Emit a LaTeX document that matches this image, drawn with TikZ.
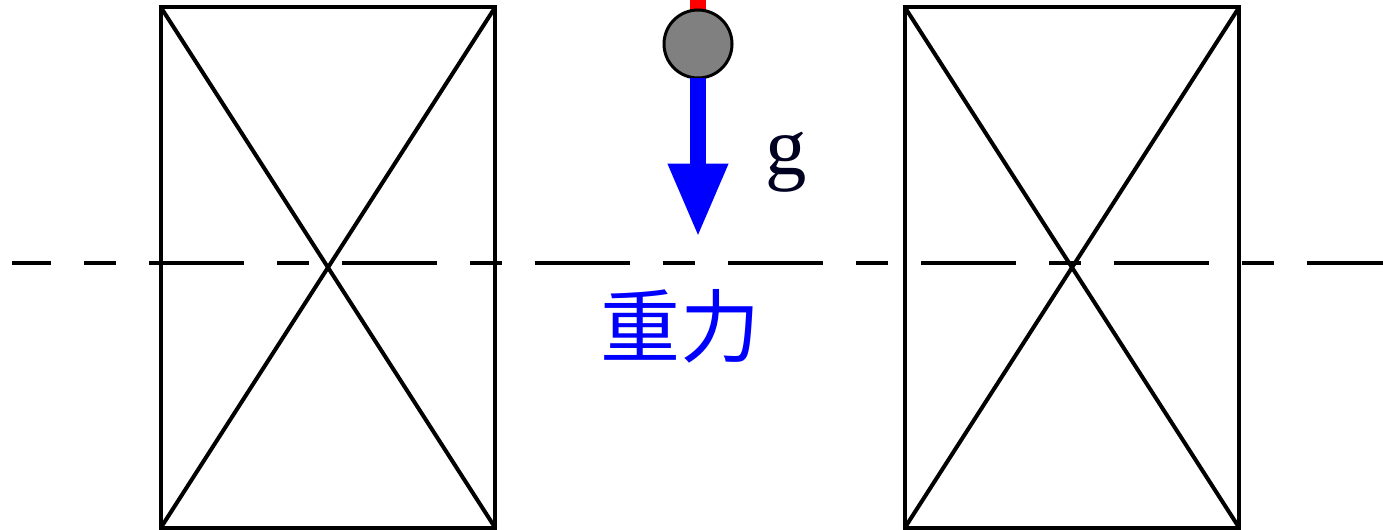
\documentclass[tikz,border=0pt]{standalone}
\usepackage{fontspec}
\setmainfont{Liberation Serif}
\newfontfamily\cjk{Noto Sans CJK SC}
\usetikzlibrary{arrows.meta}
\definecolor{gdark}{RGB}{0,0,32}
\begin{document}
\begin{tikzpicture}[x=0.75pt,y=-0.75pt,
  coil/.style={draw,line width=3pt,minimum width=251pt,minimum height=390.75pt,outer sep=0pt,inner sep=0pt},
  ball/.style={circle,draw,fill=gray,line width=2.25pt,minimum size=51pt,inner sep=0pt,outer sep=0pt}]
  \useasboundingbox (0,0) rectangle (1383,530);
  \node[coil] (c1) at (328,267.5) {};
  \node[coil] (c2) at (1072,267.5) {};
  \draw[line width=3pt] (c1.north west) -- (c1.south east);
  \draw[line width=3pt] (c1.north east) -- (c1.south west);
  \draw[line width=3pt] (c2.north west) -- (c2.south east);
  \draw[line width=3pt] (c2.north east) -- (c2.south west);
  \coordinate (l0) at (12,263);
  \coordinate (l1) at (1383,263);
  \draw[line width=3pt,dash pattern=on 71.25pt off 24.75pt on 24pt off 24.75pt,dash phase=42pt] (l0) -- (l1);
  \coordinate (top) at (698,0);
  \coordinate (mc) at (698,44);
  \draw[red,line width=12pt] (mc) -- (top);
  \node[ball] (m) at (mc) {};
  \coordinate (tip) at (698,237);
  \draw[blue,line width=12pt,-{Triangle[length=55pt,width=42pt]}] (m.south) -- (tip);
  \node[text=gdark,font=\fontsize{62}{62}\selectfont] (g) at (786,162) {g};
  \node[text=blue,font=\cjk\fontsize{60}{60}\selectfont] (zl) at (680,326) {重力};
\end{tikzpicture}
\end{document}
